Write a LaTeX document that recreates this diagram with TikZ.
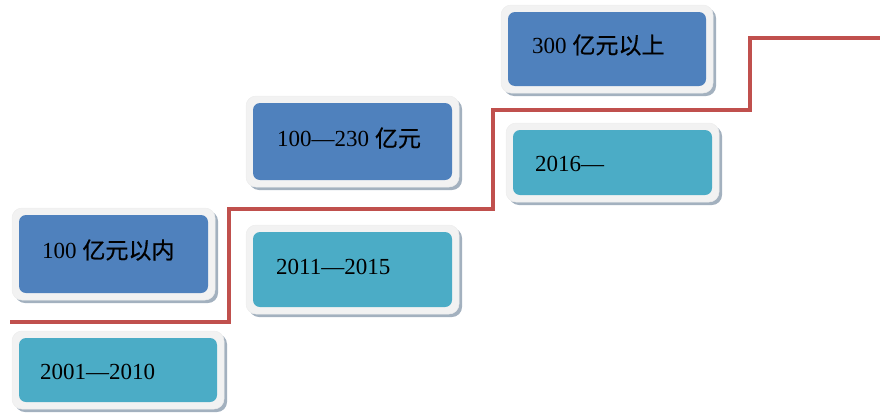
\documentclass[tikz,border=0pt]{standalone}
\usepackage{fontspec}
\setmainfont{Liberation Serif}
\newfontfamily\cjk[FakeBold=0.6]{Noto Sans CJK SC}
\definecolor{cardblue}{HTML}{4F81BD}
\definecolor{cardteal}{HTML}{4BACC6}
\definecolor{stairred}{HTML}{C0504D}
\definecolor{framefill}{HTML}{F2F2F2}
\definecolor{frameshade}{HTML}{A3B1BF}
\tikzset{
  cardshadow/.style={fill=frameshade, rounded corners=10pt},
  cardframe/.style={fill=framefill, draw=black!7, line width=0.5pt, rounded corners=10pt},
  cardface/.style={rounded corners=7pt},
  cardlabel/.style={anchor=west, inner sep=0pt, text=black, font=\fontsize{23}{23}\selectfont},
  stair/.style={draw=stairred, line width=4.5pt, line join=miter}
}
% \card{name}{x1}{y1}{x2}{y2}{face colour}{label x}{label y}{label}
\newcommand\card[9]{%
  \fill[cardshadow] (#2-7+3,#3-7+3) rectangle (#4+7+3,#5+7+3);
  \path[cardframe] (#2-7,#3-7) rectangle (#4+7,#5+7);
  \fill[cardface,fill=#6] (#2,#3) rectangle (#4,#5);
  \node[cardlabel] (#1) at (#7,#8) {#9};
}
\begin{document}
\begin{tikzpicture}[x=1pt,y=-1pt]
  \useasboundingbox (0,0) rectangle (885,418);
  % revenue cards (upper row) and period cards (lower row)
  \card{rev1}{19}{215}{208}{293}{cardblue}{42}{250}{100 {\cjk 亿元以内}}
  \card{per1}{19}{338}{217}{402}{cardteal}{40}{372}{2001—2010}
  \card{rev2}{253}{103}{452}{180}{cardblue}{277}{138}{100—230 {\cjk 亿元}}
  \card{per2}{253}{232}{452}{307}{cardteal}{276}{267}{2011—2015}
  \card{rev3}{508}{12}{706}{86}{cardblue}{532}{45}{300 {\cjk 亿元以上}}
  \card{per3}{513}{130}{712}{195}{cardteal}{535}{164}{2016—}
  % rising staircase
  \coordinate (s0) at (10,322);
  \coordinate (s1) at (229,322);
  \coordinate (s2) at (229,209);
  \coordinate (s3) at (493,209);
  \coordinate (s4) at (493,110);
  \coordinate (s5) at (750,110);
  \coordinate (s6) at (750,38);
  \coordinate (s7) at (880,38);
  \draw[stair] (s0) -- (s1) -- (s2) -- (s3) -- (s4) -- (s5) -- (s6) -- (s7);
\end{tikzpicture}
\end{document}
